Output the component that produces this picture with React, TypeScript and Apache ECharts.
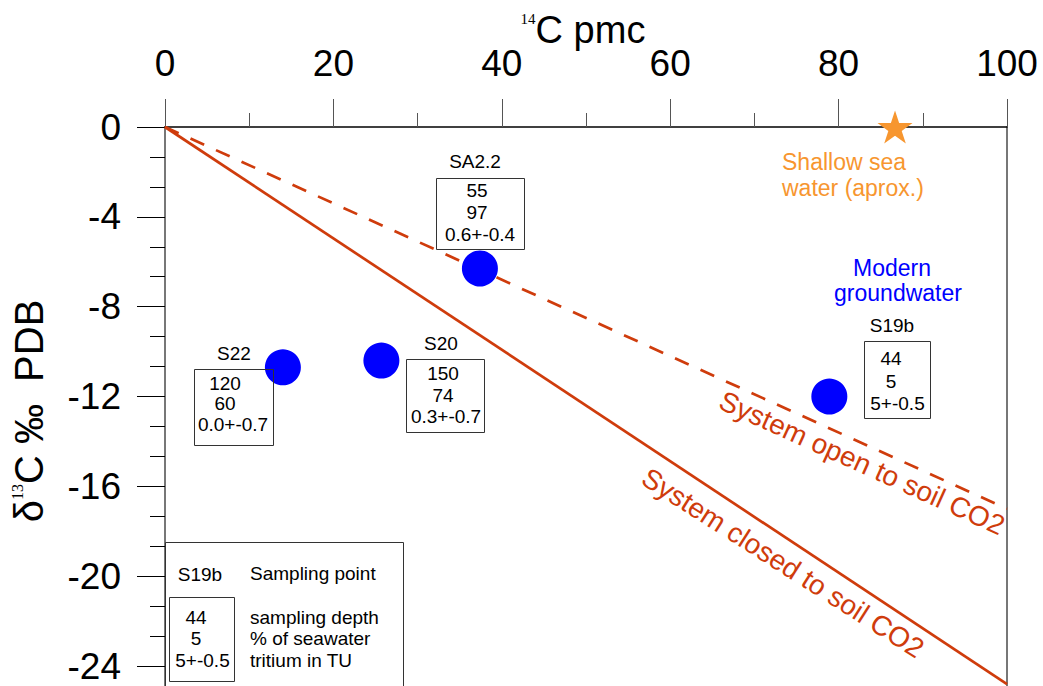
import React, { useEffect, useRef } from 'react';
import * as echarts from 'echarts';

// ---- data ----
const sampleNames = ['SA2.2', 'S22', 'S20', 'S19b'];
const pmc14C = [37.4, 14.0, 25.7, 78.9];
const d13C = [-6.3, -10.7, -10.4, -12.0];
const depths = ['55', '120', '150', '44'];
const seawaterPct = ['97', '60', '74', '5'];
const tritiumTU = ['0.6+-0.4', '0.0+-0.7', '0.3+-0.7', '5+-0.5'];
const shallowSeaWater = [86.7, 0];
const closedSystemLine = [[0, 0], [100, -24.8]];
const openSystemLine = [[0, 0], [100, -17.0]];
const legendExample = ['S19b', '44', '5', '5+-0.5'];
const legendLabels = ['Sampling point', 'sampling depth', '% of seawater', 'tritium in TU'];
const xRange = [0, 100];
const yRange = [-28, 0];
const yLabelFloor = -24;

// ---- layout of annotation boxes (pixels) ----
const boxLayout = [
  { nx: 475, ny: 161, x: 436, y: 178, w: 88, h: 71, ly: [190, 212, 234], lx: [477, 477, 480] },
  { nx: 234, ny: 353, x: 194, y: 369, w: 79, h: 76, ly: [383, 403.5, 424], lx: [225, 225, 233] },
  { nx: 441, ny: 343, x: 406, y: 359, w: 78, h: 73, ly: [373, 395, 416], lx: [443, 443, 446] },
  { nx: 892, ny: 325, x: 864, y: 341, w: 66, h: 77, ly: [358, 381, 403], lx: [891, 891, 897.5] },
];

const FONT = '"Liberation Sans", Arial, Helvetica, sans-serif';
const RED = '#cf3c0c';
const BLUE = '#0000ff';
const ORANGE = '#f7962f';
const STAR = 'path://M50 0 L61.2 34.5 L97.6 34.5 L68.2 55.9 L79.4 90.5 L50 69.1 L20.6 90.5 L31.8 55.9 L2.4 34.5 L38.8 34.5 Z';

function txt(x: number, y: number, text: string, extra: any = {}, el: any = {}) {
  const align = extra.align || 'center';
  const valign = extra.verticalAlign || 'middle';
  return {
    type: 'text',
    x,
    y,
    silent: true,
    z: 100,
    ...el,
    style: {
      text,
      fontSize: 19,
      fontFamily: FONT,
      fill: '#000',
      ...extra,
      align,
      textAlign: align,
      verticalAlign: valign,
      textVerticalAlign: valign,
    },
  };
}

function box(x: number, y: number, w: number, h: number) {
  return {
    type: 'rect',
    silent: true,
    z: 100,
    shape: { x: x + 0.5, y: y + 0.5, width: w, height: h },
    style: { fill: 'none', stroke: '#333', lineWidth: 1 },
  };
}

export default function App() {
  const ref = useRef<HTMLDivElement>(null);

  useEffect(() => {
    if (!ref.current) return;
    const chart = echarts.init(ref.current, null, { renderer: 'svg' });

    const graphics: any[] = [];
    sampleNames.forEach((name, i) => {
      const b = boxLayout[i];
      graphics.push(txt(b.nx, b.ny, name));
      graphics.push(box(b.x, b.y, b.w, b.h));
      [depths[i], seawaterPct[i], tritiumTU[i]].forEach((s, k) => {
        graphics.push(txt(b.lx[k], b.ly[k], s));
      });
    });
    // legend box
    graphics.push(box(165, 542, 238, 200));
    graphics.push(txt(200, 574, legendExample[0]));
    graphics.push(txt(250, 573, legendLabels[0], { align: 'left' }));
    graphics.push(box(169, 597, 65, 84));
    const lgY = [617, 638, 660];
    const lgX = [196, 196, 202.5];
    for (let k = 0; k < 3; k++) {
      graphics.push(txt(lgX[k], lgY[k], legendExample[k + 1]));
      graphics.push(txt(250, lgY[k], legendLabels[k + 1], { align: 'left' }));
    }
    // other annotations
    graphics.push(txt(782, 162, 'Shallow sea', { align: 'left', fontSize: 23, fill: ORANGE }));
    graphics.push(txt(782, 188, 'water (aprox.)', { align: 'left', fontSize: 23, fill: ORANGE }));
    graphics.push(txt(892, 268, 'Modern', { fontSize: 23, fill: BLUE }));
    graphics.push(txt(898, 293, 'groundwater', { fontSize: 23, fill: BLUE }));
    graphics.push(
      txt(862, 463, 'System open to soil CO2', { fontSize: 28, fill: RED }, { rotation: (-24.4 * Math.PI) / 180 })
    );
    graphics.push(
      txt(783, 563, 'System closed to soil CO2', { fontSize: 28, fill: RED }, { rotation: (-32.5 * Math.PI) / 180 })
    );
    // axis titles
    graphics.push(
      txt(583, 30, '{s|14}{t|C pmc}', {
        rich: {
          s: { fontSize: 15, fontFamily: '"Liberation Serif", serif', verticalAlign: 'top', fill: '#000' },
          t: { fontSize: 38, fontFamily: FONT, fill: '#000' },
        },
      })
    );
    graphics.push(
      txt(
        29,
        411,
        '{t|δ}{s|13}{t|C ‰  PDB}',
        {
          rich: {
            s: { fontSize: 16, fontFamily: '"Liberation Serif", serif', verticalAlign: 'top', fill: '#000' },
            t: { fontSize: 40, fontFamily: FONT, fill: '#000' },
          },
        },
        { rotation: Math.PI / 2 }
      )
    );

    const yAxisCommon = {
      type: 'value',
      min: yRange[0],
      max: yRange[1],
      interval: 4,
      splitLine: { show: false },
    };

    chart.setOption({
      animation: false,
      grid: { left: 165, top: 127, width: 842, height: 628.9 },
      xAxis: {
        type: 'value',
        position: 'top',
        min: xRange[0],
        max: xRange[1],
        interval: 20,
        axisLine: { show: true, onZero: false, lineStyle: { color: '#000', width: 1.5 } },
        axisTick: { show: true, length: 28, lineStyle: { color: '#555', width: 1 } },
        minorTick: { show: true, splitNumber: 2, length: 14, lineStyle: { color: '#555', width: 1 } },
        axisLabel: { fontSize: 37, color: '#000', fontFamily: FONT, margin: 45 },
        splitLine: { show: false },
        minorSplitLine: { show: false },
      },
      yAxis: [
        {
          ...yAxisCommon,
          position: 'left',
          axisLine: { show: true, onZero: false, lineStyle: { color: '#777', width: 2 } },
          axisTick: { show: true, length: 28, lineStyle: { color: '#000', width: 1 } },
          minorTick: { show: true, splitNumber: 3, length: 15, lineStyle: { color: '#000', width: 1 } },
          axisLabel: {
            fontSize: 37,
            color: '#000',
            fontFamily: FONT,
            margin: 44,
            formatter: (v: number) => (v < yLabelFloor ? '' : String(v)),
          },
        },
        {
          ...yAxisCommon,
          position: 'right',
          axisLine: { show: true, onZero: false, lineStyle: { color: '#777', width: 2 } },
          axisTick: { show: false },
          axisLabel: { show: false },
        },
      ],
      series: [
        {
          type: 'line',
          data: closedSystemLine,
          symbol: 'none',
          lineStyle: { color: RED, width: 2.7 },
          silent: true,
          z: 2,
        },
        {
          type: 'line',
          data: openSystemLine,
          symbol: 'none',
          lineStyle: { color: RED, width: 2.7, type: [15, 13], cap: 'butt' },
          silent: true,
          z: 2,
        },
        {
          type: 'scatter',
          data: pmc14C.map((x, i) => [x, d13C[i]]),
          symbolSize: 36,
          itemStyle: { color: BLUE, opacity: 1 },
          silent: true,
          z: 3,
        },
        {
          type: 'scatter',
          data: [shallowSeaWater],
          symbol: STAR,
          symbolSize: [35, 33],
          clip: false,
          itemStyle: { color: ORANGE, opacity: 1 },
          silent: true,
          z: 4,
        },
      ],
      graphic: { elements: graphics },
    });

    return () => chart.dispose();
  }, []);

  return (
    <div
      style={{
        position: 'fixed',
        left: 0,
        top: 0,
        width: 1043,
        height: 686,
        overflow: 'hidden',
        background: '#fff',
      }}
    >
      <div ref={ref} style={{ width: 1043, height: 800 }} />
    </div>
  );
}
